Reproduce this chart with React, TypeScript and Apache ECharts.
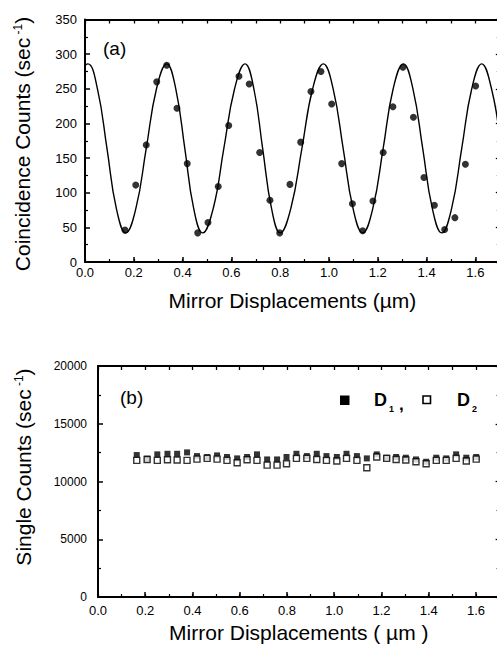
import React, { useEffect, useRef } from "react";
import * as echarts from "echarts";

// Mirror displacement positions (µm) of the measured points (shared by both panels)
const displacement = [
  0.164, 0.208, 0.251, 0.294, 0.335, 0.377, 0.419, 0.462, 0.504, 0.546, 0.589, 0.631,
  0.673, 0.716, 0.758, 0.798, 0.840, 0.884, 0.926, 0.967, 1.011, 1.052, 1.096, 1.138,
  1.180, 1.222, 1.262, 1.303, 1.346, 1.389, 1.432, 1.474, 1.516, 1.559, 1.601,
];

// Panel (a): coincidence counts (sec^-1)
const coincidence = [
  46, 111, 169, 260, 284, 222, 142, 42, 57, 109, 197, 268,
  257, 158, 89, 42, 112, 173, 246, 275, 228, 142, 84, 45,
  88, 158, 224, 281, 209, 122, 82, 47, 64, 141, 254,
];

// Panel (a): fitted curve
const fitX = [
  0.0, 0.012, 0.051, 0.09, 0.128, 0.167, 0.209, 0.251, 0.293, 0.335, 0.372, 0.409,
  0.445, 0.482, 0.526, 0.569, 0.613, 0.656, 0.692, 0.728, 0.764, 0.8, 0.844, 0.889,
  0.933, 0.977, 1.017, 1.058, 1.098, 1.138, 1.18, 1.222, 1.263, 1.305, 1.344, 1.384,
  1.423, 1.462, 1.503, 1.544, 1.585, 1.626, 1.666, 1.7,
];
const fitY = [
  284, 286, 250, 164, 78, 42, 78, 164, 250, 286, 250, 164,
  78, 42, 78, 164, 250, 286, 250, 164, 78, 42, 78, 164,
  250, 286, 250, 164, 78, 42, 78, 164, 250, 286, 250, 164,
  78, 42, 78, 164, 250, 286, 250, 180,
];

// Panel (b): single counts (sec^-1) of detectors D1 (filled) and D2 (open)
const singlesD1 = [
  12290, 11980, 12350, 12400, 12400, 12520, 12200, 12120, 12260, 12120, 12000, 12120,
  12350, 11910, 11910, 12120, 12400, 12200, 12400, 12200, 12120, 12400, 12200, 12000,
  12350, 12060, 12120, 12060, 11910, 11710, 12060, 12000, 12350, 12060, 12120,
];
const singlesD2 = [
  11830, 11900, 11830, 11880, 11860, 11830, 11940, 12000, 11940, 11830, 11620, 11880,
  11830, 11420, 11420, 11540, 12000, 12000, 11910, 11830, 11770, 12000, 11830, 11190,
  12120, 12000, 11910, 11860, 11710, 11540, 11830, 11830, 12000, 11770, 11940,
];

const xAxisTitleA = "Mirror Displacements (µm)";
const xAxisTitleB = "Mirror Displacements ( µm )";
const yAxisTitleA = "Coincidence Counts (sec";
const yAxisTitleB = "Single Counts (sec";

const FONT = "'Liberation Sans', Arial, Helvetica, sans-serif";

export default function App() {
  const ref = useRef<HTMLDivElement>(null);

  useEffect(() => {
    if (!ref.current) return;
    const chart = echarts.init(ref.current, null, { renderer: "svg" });

    const black = "#000";
    const line = (w = 2) => ({ show: true, onZero: false, lineStyle: { color: black, width: w } });
    const noLabel = { show: false };

    const xAxes: any[] = [];
    const yAxes: any[] = [];
    const grids = [
      { left: 85, top: 19.5, width: 414.8, height: 242.5 },
      { left: 98, top: 366, width: 401.6, height: 231 },
    ];

    [0, 1].forEach((g) => {
      // bottom major axis with labels
      xAxes.push({
        gridIndex: g,
        type: "value",
        position: "bottom",
        min: 0,
        max: 1.7,
        interval: 0.2,
        axisLine: line(2),
        axisTick: { show: true, inside: true, length: 5, lineStyle: { color: black, width: 1.5 } },
        splitLine: { show: false },
        axisLabel: {
          show: true,
          showMaxLabel: false,
          color: black,
          fontFamily: FONT,
          fontSize: 13,
          margin: g === 0 ? 4 : 7,
          formatter: (v: number) => v.toFixed(1),
        },
        name: g === 0 ? xAxisTitleA : xAxisTitleB,
        nameLocation: "middle",
        nameGap: g === 0 ? 28 : 25,
        nameTextStyle: { color: black, fontFamily: FONT, fontSize: 21 },
      });
      // bottom minor ticks
      xAxes.push({
        gridIndex: g,
        type: "value",
        position: "bottom",
        min: 0,
        max: 1.7,
        interval: 0.1,
        axisLine: { show: false },
        axisTick: { show: true, inside: true, length: 3, lineStyle: { color: black, width: 1.2 } },
        splitLine: { show: false },
        axisLabel: noLabel,
      });
      // top frame with ticks
      xAxes.push({
        gridIndex: g,
        type: "value",
        position: "top",
        min: 0,
        max: 1.7,
        interval: 0.1,
        axisLine: line(2),
        axisTick: { show: true, inside: true, length: 4, lineStyle: { color: black, width: 1.3 } },
        splitLine: { show: false },
        axisLabel: noLabel,
      });
      const ymax = g === 0 ? 350 : 20000;
      const yint = g === 0 ? 50 : 5000;
      yAxes.push({
        gridIndex: g,
        type: "value",
        position: "left",
        min: 0,
        max: ymax,
        interval: yint,
        axisLine: line(2),
        axisTick: { show: true, inside: true, length: 5, lineStyle: { color: black, width: 1.5 } },
        minorTick: { show: true, splitNumber: 2, length: 3, lineStyle: { color: black, width: 1.2 } },
        splitLine: { show: false },
        minorSplitLine: { show: false },
        axisLabel: {
          show: true,
          color: black,
          fontFamily: FONT,
          fontSize: g === 0 ? 13 : 12,
          margin: g === 0 ? 8 : 11,
          formatter: (v: number) => String(Math.round(v)),
        },
      });
      yAxes.push({
        gridIndex: g,
        type: "value",
        position: "right",
        min: 0,
        max: ymax,
        interval: yint,
        axisLine: line(2),
        axisTick: { show: true, inside: true, length: 4, lineStyle: { color: black, width: 1.3 } },
        minorTick: { show: true, splitNumber: 2, length: 3, lineStyle: { color: black, width: 1.2 } },
        splitLine: { show: false },
        minorSplitLine: { show: false },
        axisLabel: noLabel,
      });
    });

    const pairs = (xs: number[], ys: number[]) => xs.map((x, i) => [x, ys[i]]);

    const rich = {
      t: { fontFamily: FONT, fontSize: 21, color: black },
      s: { fontFamily: FONT, fontSize: 12, color: black, verticalAlign: "top" },
    };

    const txt = (text: string, x: number, y: number, size: number, bold = false) => ({
      type: "text",
      x,
      y,
      style: {
        text,
        fontFamily: FONT,
        fontSize: size,
        fontWeight: bold ? "bold" : "normal",
        fill: black,
        align: "left",
        verticalAlign: "middle",
        textAlign: "left",
        textVerticalAlign: "middle",
      },
    });

    chart.setOption({
      animation: false,
      backgroundColor: "#fff",
      grid: grids,
      xAxis: xAxes,
      yAxis: yAxes,
      series: [
        {
          type: "line",
          name: "fit",
          xAxisIndex: 0,
          yAxisIndex: 0,
          data: pairs(fitX, fitY),
          smooth: 0.45,
          showSymbol: false,
          symbol: "none",
          lineStyle: { color: black, width: 1.4 },
          clip: true,
          z: 2,
        },
        {
          type: "scatter",
          name: "coincidence",
          xAxisIndex: 0,
          yAxisIndex: 0,
          data: pairs(displacement, coincidence),
          symbol: "circle",
          symbolSize: 7,
          itemStyle: { color: black },
          z: 3,
        },
        {
          type: "scatter",
          name: "D1",
          xAxisIndex: 3,
          yAxisIndex: 2,
          data: pairs(displacement, singlesD1),
          symbol: "rect",
          symbolSize: 6,
          itemStyle: { color: black },
          z: 3,
        },
        {
          type: "scatter",
          name: "D2",
          xAxisIndex: 3,
          yAxisIndex: 2,
          data: pairs(displacement, singlesD2),
          symbol: "rect",
          symbolSize: 6,
          itemStyle: { color: "#fff", borderColor: black, borderWidth: 1.4 },
          z: 4,
        },
      ],
      graphic: [
        txt("(a)", 103, 48, 19),
        txt("(b)", 120, 397, 19),
        {
          type: "text",
          x: 22.5,
          y: 144,
          rotation: Math.PI / 2,
          style: {
            text: "{t|" + yAxisTitleA + "}{s| -1}{t|)}",
            rich,
            align: "center",
            verticalAlign: "middle",
            textAlign: "center",
            textVerticalAlign: "middle",
          },
        },
        {
          type: "text",
          x: 23,
          y: 467,
          rotation: Math.PI / 2,
          style: {
            text: "{t|" + yAxisTitleB + "}{s| -1}{t|)}",
            rich,
            align: "center",
            verticalAlign: "middle",
            textAlign: "center",
            textVerticalAlign: "middle",
          },
        },
        // legend of panel (b)
        { type: "rect", shape: { x: 340, y: 395.5, width: 9.5, height: 9.5 }, style: { fill: black } },
        txt("D", 374, 400, 18, true),
        txt("1", 389, 409, 9, true),
        txt(",", 399, 404, 17, true),
        { type: "rect", shape: { x: 423, y: 396, width: 7.5, height: 7.5 }, style: { fill: "#fff", stroke: black, lineWidth: 1.6 } },
        txt("D", 457, 400, 18, true),
        txt("2", 472, 409, 9, true),
      ],
    });

    return () => chart.dispose();
  }, []);

  return (
    <div
      ref={ref}
      style={{ position: "fixed", left: 0, top: 0, width: 502, height: 651, background: "#fff" }}
    />
  );
}
